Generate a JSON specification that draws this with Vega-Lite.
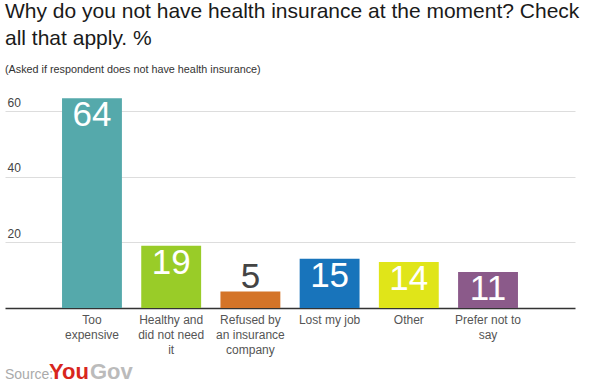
{
  "$schema": "https://vega.github.io/schema/vega-lite/v6.json",
  "width": 570,
  "height": 213,
  "padding": {"left": 5, "top": 1, "right": 24, "bottom": 3},
  "background": "white",
  "config": {"view": {"stroke": null}},
  "title": {
    "text": ["Why do you not have health insurance at the moment? Check", "all that apply. %"],
    "subtitle": "(Asked if respondent does not have health insurance)",
    "anchor": "start",
    "frame": "group",
    "font": "Liberation Sans",
    "fontSize": 21,
    "fontWeight": "normal",
    "color": "#1a1a1a",
    "lineHeight": 27,
    "subtitleFont": "Liberation Sans",
    "subtitleFontSize": 10.8,
    "subtitleColor": "#333333",
    "subtitlePadding": 15,
    "offset": 20
  },
  "layer": [
    {
      "data": {"values": [
        {"reason": "Too|expensive", "value": 64},
        {"reason": "Healthy and|did not need|it", "value": 19},
        {"reason": "Refused by|an insurance|company", "value": 5},
        {"reason": "Lost my job", "value": 15},
        {"reason": "Other", "value": 14},
        {"reason": "Prefer not to|say", "value": 11}
      ]},
      "encoding": {
        "x": {
          "field": "reason", "type": "nominal", "sort": null,
          "scale": {"paddingInner": 0.244, "paddingOuter": 0.72},
          "axis": {
            "title": null, "labelAngle": 0, "ticks": false, "domain": true,
            "domainColor": "#333333", "domainWidth": 1.5,
            "labelFont": "Liberation Sans", "labelFontSize": 12, "labelColor": "#555555",
            "labelPadding": 6, "labelLineHeight": 15,
            "labelExpr": "split(datum.label, '|')"
          }
        },
        "y": {
          "field": "value", "type": "quantitative",
          "scale": {"domain": [0, 65], "nice": false},
          "axis": {
            "title": null, "values": [20, 40, 60], "grid": true, "gridColor": "#dddddd",
            "domain": false, "ticks": false, "tickSize": 0,
            "labelAlign": "left", "labelBaseline": "bottom", "labelPadding": -2, "labelOffset": -2,
            "labelFont": "Liberation Sans", "labelFontSize": 12, "labelColor": "#444444"
          }
        }
      },
      "layer": [
        {
          "mark": {"type": "bar"},
          "encoding": {
            "color": {
              "field": "reason", "type": "nominal", "legend": null,
              "scale": {
                "domain": ["Too|expensive", "Healthy and|did not need|it", "Refused by|an insurance|company", "Lost my job", "Other", "Prefer not to|say"],
                "range": ["#55a9ab", "#99cc28", "#d47428", "#1874bb", "#e0e519", "#8b5a8a"]
              }
            }
          }
        },
        {
          "transform": [{"filter": "datum.value >= 10"}],
          "mark": {"type": "text", "baseline": "top", "dy": 0, "color": "white", "font": "Liberation Sans", "fontSize": 35},
          "encoding": {"text": {"field": "value", "type": "quantitative"}}
        },
        {
          "transform": [{"filter": "datum.value < 10"}],
          "mark": {"type": "text", "baseline": "alphabetic", "dy": -4, "color": "#444444", "font": "Liberation Sans", "fontSize": 35},
          "encoding": {"text": {"field": "value", "type": "quantitative"}}
        }
      ]
    },
    {
      "data": {"values": [{"t": "Source:"}]},
      "mark": {"type": "text", "align": "left", "baseline": "alphabetic", "font": "Liberation Sans", "fontSize": 14, "color": "#aaaaaa"},
      "encoding": {"x": {"value": 0}, "y": {"value": 284}, "text": {"field": "t"}}
    },
    {
      "data": {"values": [{"t": "You"}]},
      "mark": {"type": "text", "align": "left", "baseline": "alphabetic", "font": "Liberation Sans", "fontSize": 22, "fontWeight": "bold", "color": "#d8261d"},
      "encoding": {"x": {"value": 44}, "y": {"value": 284}, "text": {"field": "t"}}
    },
    {
      "data": {"values": [{"t": "Gov"}]},
      "mark": {"type": "text", "align": "left", "baseline": "alphabetic", "font": "Liberation Sans", "fontSize": 22, "fontWeight": "bold", "color": "#bbbbbb"},
      "encoding": {"x": {"value": 85}, "y": {"value": 284}, "text": {"field": "t"}}
    }
  ]
}
